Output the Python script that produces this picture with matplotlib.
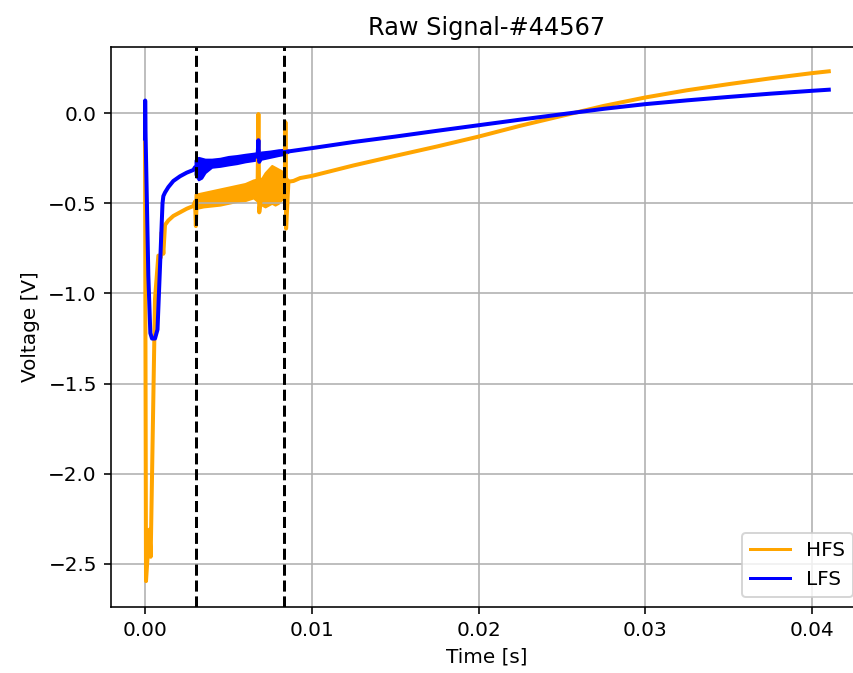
#import packages
import matplotlib
matplotlib.use("Agg")
import matplotlib.pyplot as plt

#signal values (time in s, voltage in V)
hfs_time = [0.0, 0.00006, 0.00026, 0.00034, 0.0006, 0.0008, 0.00095, 0.001, 0.0011, 0.0012,
            0.0014, 0.0017, 0.0021, 0.0025, 0.0029,
            0.0030, 0.00305, 0.0031, 0.0045, 0.0060, 0.00675, 0.0068, 0.00685, 0.0070,
            0.0078, 0.0084, 0.00842, 0.00846, 0.0086, 0.0089, 0.0093,
            0.01, 0.0125, 0.015, 0.0175, 0.02, 0.0225, 0.025, 0.0275, 0.03, 0.0325, 0.035,
            0.0375, 0.04, 0.041]
hfs_volt = [-0.14, -2.595, -2.31, -2.46, -1.03, -0.79, -0.80, -0.66, -0.78, -0.62,
            -0.595, -0.57, -0.55, -0.53, -0.515,
            -0.49, -0.626, -0.48, -0.465, -0.44, -0.42, -0.005, -0.55, -0.43,
            -0.40, -0.40, -0.05, -0.64, -0.38, -0.376, -0.36,
            -0.348, -0.29, -0.237, -0.185, -0.13, -0.07, -0.015, 0.04, 0.087, 0.127, 0.161,
            0.193, 0.222, 0.232]

lfs_time = [0.0, 0.00001, 0.00003, 0.0002, 0.00032, 0.00042, 0.0006, 0.00075, 0.0009, 0.00105,
            0.0011, 0.0012, 0.0014, 0.0017, 0.0021, 0.0025, 0.0029,
            0.0030, 0.0045, 0.0060, 0.00675, 0.0068, 0.00685, 0.0070, 0.0084, 0.009,
            0.01, 0.0125, 0.015, 0.0175, 0.02, 0.0225, 0.025, 0.0275, 0.03, 0.0325, 0.035,
            0.0375, 0.04, 0.041]
lfs_volt = [-0.14, 0.07, -0.10, -0.90, -1.22, -1.25, -1.25, -1.20, -0.85, -0.50,
            -0.46, -0.44, -0.41, -0.376, -0.35, -0.33, -0.315,
            -0.30, -0.272, -0.25, -0.24, -0.15, -0.27, -0.235, -0.215, -0.207,
            -0.194, -0.16, -0.13, -0.098, -0.067, -0.036, -0.006, 0.024, 0.05, 0.071, 0.09,
            0.108, 0.124, 0.13]

#noise envelope between the two markers
hfs_band_time = [0.0030, 0.0035, 0.0040, 0.0045, 0.0050, 0.0055, 0.0060, 0.0065, 0.0070,
                 0.0072, 0.0074, 0.0076, 0.0078, 0.0080, 0.0082, 0.0084, 0.0086]
hfs_band_upper = [-0.45, -0.44, -0.43, -0.42, -0.41, -0.40, -0.39, -0.37, -0.36,
                  -0.33, -0.31, -0.29, -0.30, -0.31, -0.32, -0.35, -0.37]
hfs_band_lower = [-0.53, -0.52, -0.515, -0.51, -0.50, -0.49, -0.485, -0.47, -0.51,
                  -0.52, -0.51, -0.50, -0.51, -0.50, -0.48, -0.45, -0.39]

lfs_band_time = [0.0030, 0.0032, 0.0034, 0.0036, 0.0040, 0.0045, 0.0050, 0.0055, 0.0060,
                 0.0065, 0.0070, 0.0075, 0.0080, 0.0084, 0.0086]
lfs_band_upper = [-0.26, -0.245, -0.25, -0.255, -0.255, -0.25, -0.24, -0.235, -0.228,
                  -0.222, -0.215, -0.21, -0.203, -0.20, -0.205]
lfs_band_lower = [-0.34, -0.37, -0.36, -0.33, -0.30, -0.295, -0.287, -0.28, -0.27,
                  -0.263, -0.255, -0.245, -0.235, -0.228, -0.215]

#window markers
window_start = 0.00304
window_end = 0.00834

#plot raw signal
fig = plt.figure(figsize=(853 / 144, 673 / 144), dpi=144)
ax = fig.add_axes([0.1301, 0.0985, 0.8816, 0.8317])
ax.plot(hfs_time, hfs_volt, label="HFS", color="orange", linewidth=2)
ax.fill_between(hfs_band_time, hfs_band_lower, hfs_band_upper, color="orange", linewidth=1)
ax.plot(lfs_time, lfs_volt, label="LFS", color="blue", linewidth=2)
ax.fill_between(lfs_band_time, lfs_band_lower, lfs_band_upper, color="blue", linewidth=1)
ax.axvline(window_start, color="k", linestyle="--", linewidth=1.5)
ax.axvline(window_end, color="k", linestyle="--", linewidth=1.5)
ax.set_xlim(-0.00204, 0.04305)
ax.set_ylim(-2.737, 0.367)
ax.set_xticks([0.0, 0.01, 0.02, 0.03, 0.04])
ax.set_xlabel("Time [s]")
ax.set_ylabel("Voltage [V]")
ax.set_title("Raw Signal-#44567")
ax.grid(True)
leg = ax.legend(loc="lower right")
for handle in leg.legend_handles:
    handle.set_linewidth(1.5)
fig.savefig("out.png", dpi=144)
